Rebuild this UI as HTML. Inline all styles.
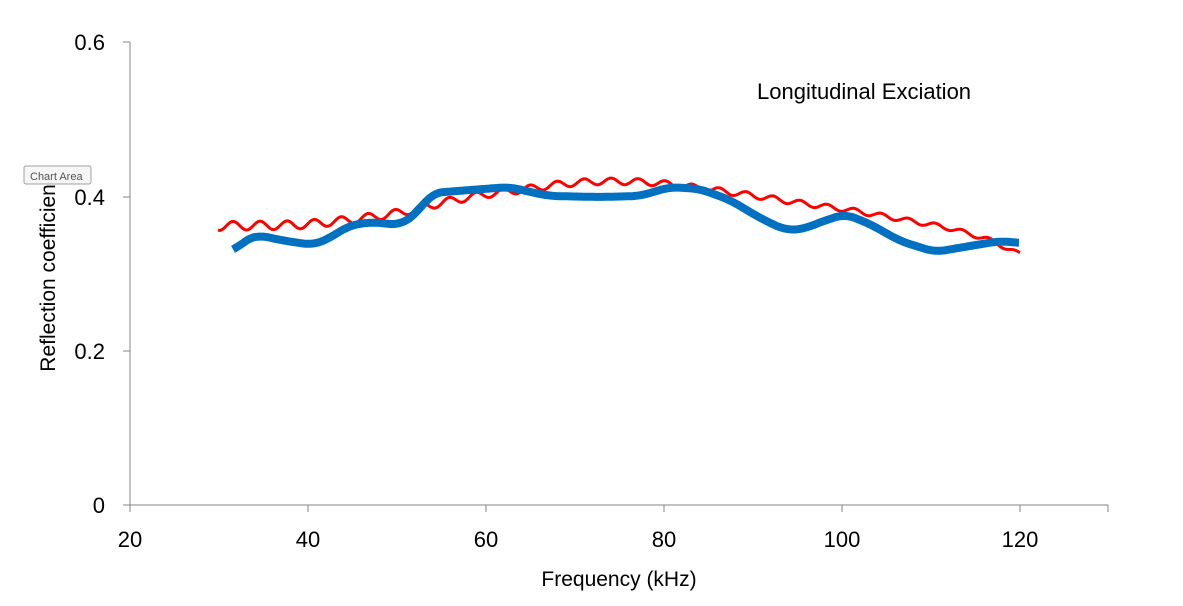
<!DOCTYPE html>
<html><head><meta charset="utf-8"><style>
html,body{margin:0;padding:0;background:#fff;}
svg{display:block;font-family:"Liberation Sans",sans-serif;}
</style></head><body>
<svg id="s" width="1183" height="606" viewBox="0 0 1183 606">
<line x1="130" y1="42" x2="130" y2="505" stroke="#868686" stroke-width="1"/>
<line x1="130" y1="505" x2="1108" y2="505" stroke="#868686" stroke-width="1"/>
<g stroke="#868686">
<line x1="123" y1="42" x2="130" y2="42"/><line x1="123" y1="197" x2="130" y2="197"/>
<line x1="123" y1="351" x2="130" y2="351"/><line x1="123" y1="505" x2="130" y2="505"/>
<line x1="130" y1="505" x2="130" y2="512"/><line x1="308" y1="505" x2="308" y2="512"/>
<line x1="486" y1="505" x2="486" y2="512"/><line x1="664" y1="505" x2="664" y2="512"/>
<line x1="842" y1="505" x2="842" y2="512"/><line x1="1020" y1="505" x2="1020" y2="512"/>
<line x1="1108" y1="505" x2="1108" y2="512"/>
</g>
<g font-size="22" text-anchor="end" fill="#000">
<text x="105" y="50">0.6</text><text x="105" y="205">0.4</text>
<text x="105" y="359">0.2</text><text x="105" y="513">0</text>
</g>
<g font-size="22" text-anchor="middle" fill="#000">
<text x="130" y="547">20</text><text x="308" y="547">40</text><text x="486" y="547">60</text>
<text x="664" y="547">80</text><text x="842" y="547">100</text><text x="1020" y="547">120</text>
<text x="619" y="586" font-size="21">Frequency (kHz)</text>
</g>
<text x="0" y="0" font-size="21" text-anchor="middle" transform="translate(55,275) rotate(-90)">Reflection coefficient</text>
<text x="757" y="99" font-size="22">Longitudinal Exciation</text>
<path id="red" fill="none" stroke="#ff0000" stroke-width="3"/>
<path id="blue" fill="none" stroke="#0070c0" stroke-width="8" stroke-linejoin="round"/>
<rect x="24" y="166" width="67" height="18" rx="2" fill="#f6f6f6" stroke="#a0a0a0"/>
<text x="30" y="180" font-size="11" fill="#555">Chart Area</text>
</svg>
<script>
function lin(pts,x){for(var i=0;i<pts.length-1;i++){if(x<=pts[i+1][0]){var a=pts[i],b=pts[i+1],t=(x-a[0])/(b[0]-a[0]);return a[1]+(b[1]-a[1])*t;}}return pts[pts.length-1][1];}
function smooth(pts,x,w){var s=0,n=0;for(var k=-w;k<=w;k+=2){var xx=Math.min(Math.max(x+k,pts[0][0]),pts[pts.length-1][0]);s+=lin(pts,xx);n++;}return s/n;}
var rb=[[218,226],[300,225],[350,220],[400,213],[440,203],[480,195],[520,190],[560,184],[600,181],[650,182],[700,188],[750,195],[800,203],[850,210],[900,219],[950,228],[1000,243],[1020,257]];
var d="";for(var x=218;x<=1020;x+=2){var amp=4.5-2.5*(x-218)/802;var y=smooth(rb,x,16)+amp*Math.sin((x-218)*2*Math.PI/27+1.2);d+=(x==218?"M":"L")+x+" "+y.toFixed(1);}
document.getElementById("red").setAttribute("d",d);
var bb=[[233,252],[245,240],[258,235],[280,240],[313,245],[330,238],[348,226],[370,222],[400,225],[415,215],[432,193],[470,190],[510,187],[530,192],[550,196],[600,197],[640,196],[670,187],[700,189],[730,200],[760,218],[785,230],[805,229],[815,224],[845,214],[870,224],[900,241],[935,252],[970,246],[1000,241],[1020,243]];
d="";for(x=233;x<=1020;x+=2){d+=(x==233?"M":"L")+x+" "+smooth(bb,x,10).toFixed(1);}
document.getElementById("blue").setAttribute("d",d);
</script>
</body></html>
